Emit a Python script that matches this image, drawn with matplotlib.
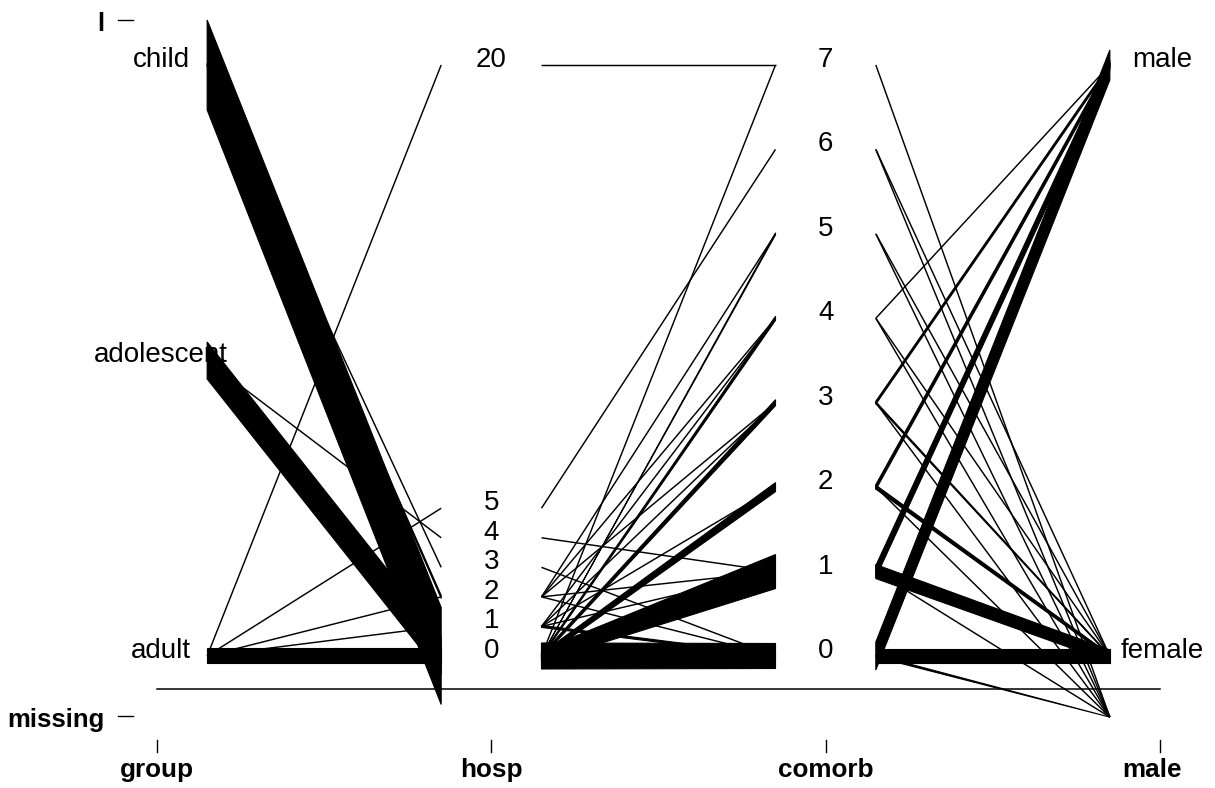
import matplotlib
matplotlib.use('Agg')
import matplotlib.pyplot as plt
from matplotlib.patches import Polygon

plt.rcParams['font.family'] = ['Liberation Sans', 'DejaVu Sans']

########################################    Data    #############################################
variables = ['group', 'hosp', 'comorb', 'male']
group_levels = ['adult', 'adolescent', 'child']
hosp_ticks = [0, 1, 2, 3, 4, 5, 20]
hosp_max = 20
comorb_ticks = [0, 1, 2, 3, 4, 5, 6, 7]
comorb_max = 7
male_levels = ['female', 'male']

# line patterns between neighbouring axes:
# (value on left axis, value on right axis, spread of stacked lines at left end, at right end)
seg_group_hosp = [
    ('child', 0, 90, 97),
    ('adolescent', 0, 37, 37),
    ('adult', 0, 15, 15),
    ('adult', 20, 0, 0),
    ('adult', 5, 0, 0),
    ('adult', 2, 0, 0),
    ('adult', 1, 0, 0),
    ('adolescent', 4, 0, 0),
    ('child', 3, 0, 0),
    ('child', 2, 3, 3),
]
seg_hosp_comorb = [
    (20, 7, 0, 0),
    (5, 6, 0, 0),
    (4, 1, 0, 0),
    (3, 0, 0, 0),
    (2, 0, 0, 0),
    (2, 1, 0, 0),
    (2, 3, 0, 0),
    (2, 4, 0, 0),
    (2, 5, 0, 0),
    (1, 0, 2, 2),
    (1, 1, 0, 0),
    (1, 2, 0, 0),
    (1, 3, 0, 0),
    (1, 4, 0, 0),
    (0, 7, 0, 0),
    (0, 5, 0, 2),
    (0, 4, 2, 4),
    (0, 3, 3, 6),
    (0, 2, 5, 9),
    (0, 1, 12, 34),
    (0, 0, 26, 25),
]
seg_comorb_male = [
    (7, 'missing', 0, 0),
    (6, 'female', 0, 0),
    (6, 'missing', 0, 0),
    (5, 'female', 0, 0),
    (5, 'missing', 0, 0),
    (4, 'male', 0, 0),
    (4, 'female', 0, 0),
    (4, 'missing', 0, 0),
    (3, 'male', 3, 3),
    (3, 'female', 2, 1),
    (3, 'missing', 0, 0),
    (2, 'male', 5, 5),
    (2, 'female', 4, 3),
    (2, 'missing', 0, 0),
    (1, 'male', 12, 10),
    (1, 'female', 14, 12),
    (1, 'missing', 0, 0),
    (0, 'male', 28, 30),
    (0, 'female', 14, 14),
    (0, 'missing', 2, 0),
]

########################################    Scales    #############################################
MISS = -0.117          # where missing values sit
PX = 1.0 / 591         # one pixel in scaled units
OFF = -8 * PX          # lines sit a little under the level label
GAP = 0.15             # room left around each axis for its labels
TXT = -3 * PX          # nudge so labels sit centred on their level

def scale(var, v):
    if v == 'missing':
        return MISS
    if var == 'group':
        return group_levels.index(v) / (len(group_levels) - 1)
    if var == 'hosp':
        return v / hosp_max
    if var == 'comorb':
        return v / comorb_max
    return male_levels.index(v) / (len(male_levels) - 1)

def line_y(var, v):
    if v == 'missing':
        return MISS
    return scale(var, v) + OFF

fig = plt.figure(figsize=(12.15, 7.88), dpi=100)
ax = fig.add_axes([0, 0, 1, 1])
ax.set_xlim(0.5304, 4.1645)
ax.set_ylim(-0.2369, 1.0964)
ax.axis('off')

def draw(segs, i):
    x0 = i + 1 + GAP
    x1 = i + 2 - GAP
    for a, b, hl, hr in segs:
        y0 = line_y(variables[i], a)
        y1 = line_y(variables[i + 1], b)
        if hl == 0 and hr == 0:
            ax.plot([x0, x1], [y0, y1], color='black', lw=1.05, solid_capstyle='butt')
        else:
            pts = [(x0, y0 + hl / 2 * PX), (x1, y1 + hr / 2 * PX),
                   (x1, y1 - hr / 2 * PX), (x0, y0 - hl / 2 * PX)]
            ax.add_patch(Polygon(pts, closed=True, facecolor='black', edgecolor='black',
                                 lw=0.8, joinstyle='bevel'))

draw(seg_group_hosp, 0)
draw(seg_hosp_comorb, 1)
draw(seg_comorb_male, 2)

# level labels
lab_x = [1.012, 2.0, 3.0, 4.006]
for g in group_levels:
    ax.text(lab_x[0], scale('group', g) + TXT, g, ha='center', va='center', fontsize=20)
for h in hosp_ticks:
    ax.text(lab_x[1], scale('hosp', h) + TXT, str(h), ha='center', va='center', fontsize=20)
for c in comorb_ticks:
    ax.text(lab_x[2], scale('comorb', c) + TXT, str(c), ha='center', va='center', fontsize=20)
for m in male_levels:
    ax.text(lab_x[3], scale('male', m) + TXT, m, ha='center', va='center', fontsize=20)

# line separating missing values
ax.plot([1, 4], [-0.0694, -0.0694], color='black', lw=1.1)

# bottom axis
name_x = [1.0, 2.0, 3.0, 3.976]
for k, v in enumerate(variables):
    ax.plot([k + 1, k + 1], [-0.1557, -0.176], color='black', lw=1.0)
    ax.text(name_x[k], -0.207, v, ha='center', va='center', fontsize=18.8, fontweight='bold')

# left axis
ax.plot([0.8834, 0.9282], [1.062, 1.062], color='black', lw=1.0)
ax.plot([0.8834, 0.9282], [MISS + 0.002, MISS + 0.002], color='black', lw=1.0)
ax.text(0.8415, 1.056, 'l', ha='right', va='center', fontsize=18.5, fontweight='bold')
ax.text(0.8415, MISS + TXT, 'missing', ha='right', va='center', fontsize=18.5, fontweight='bold')

fig.savefig('out.png', dpi=100)
